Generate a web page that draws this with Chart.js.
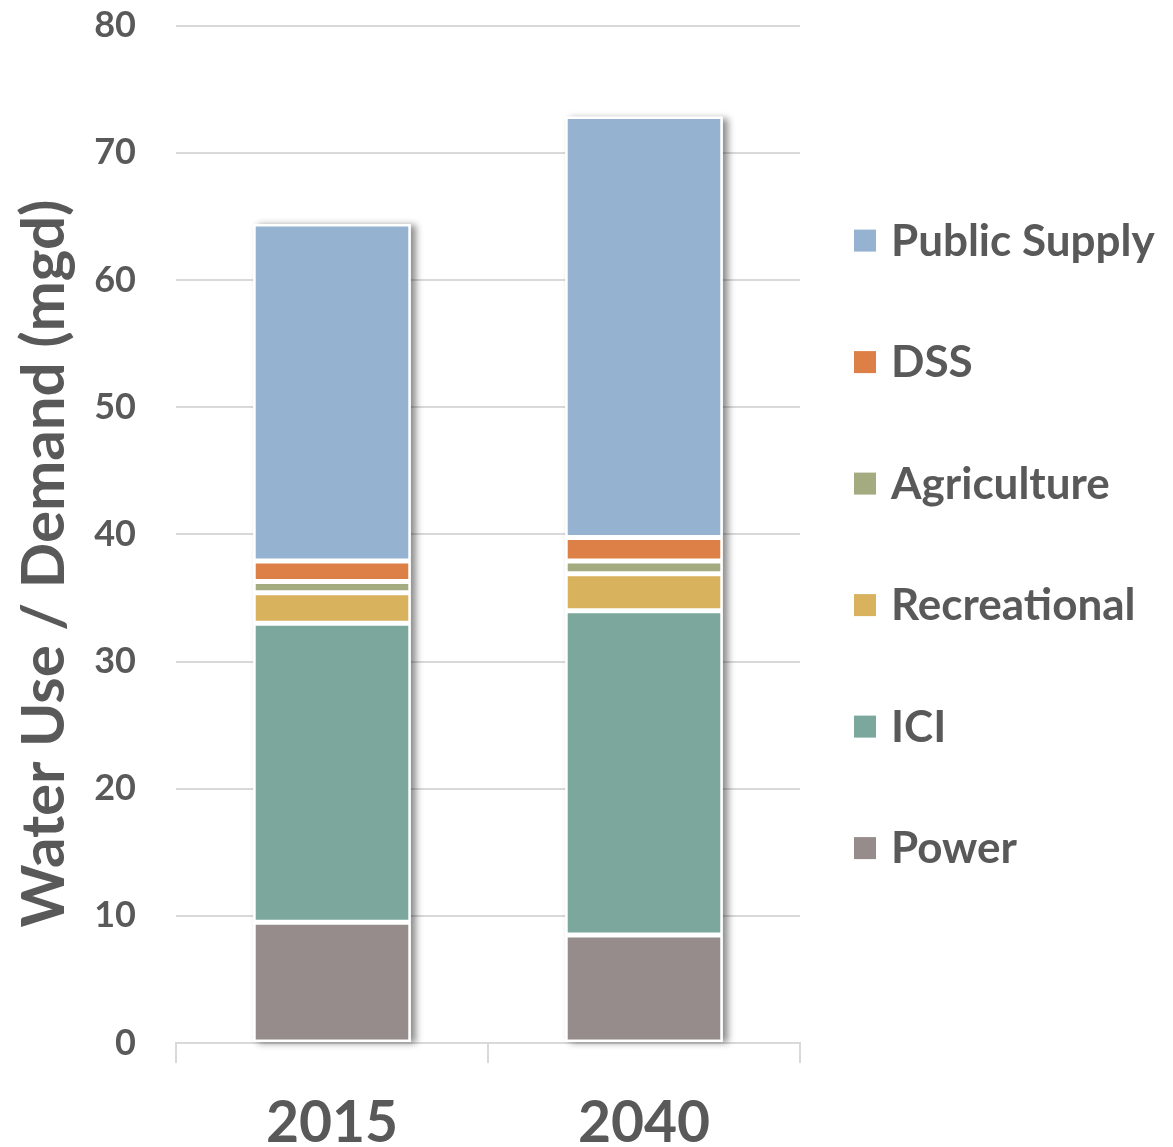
<!DOCTYPE html>
<html>
<head>
<meta charset="utf-8">
<script src="https://cdn.jsdelivr.net/npm/chart.js@4"></script>
<style>
  html, body { margin: 0; padding: 0; background: #fff; }
  #wrap { width: 1173px; height: 1147px; position: relative; }
</style>
</head>
<body>
<div id="wrap"><canvas id="waterChart"></canvas></div>
<script>
// categories + series (mgd), bottom to top of each stack
const years = ["2015", "2040"];
const power = [9.5, 8.5];
const ici = [23.5, 25.5];
const recreational = [2.4, 2.9];
const agriculture = [0.9, 1.0];
const dss = [1.6, 1.85];
const publicSupply = [26.5, 33.1];
const yTicks = [0, 10, 20, 30, 40, 50, 60, 70, 80];

const grey = "#595959";
const font = "Lato, 'Open Sans', sans-serif";

// soft drop shadow behind each stacked column
const stackShadow = {
    id: "stackShadow",
    beforeDatasetsDraw(chart) {
        const c = chart.ctx;
        const metas = chart.getSortedVisibleDatasetMetas();
        const bottom = metas[0], top = metas[metas.length - 1];
        c.save();
        c.shadowColor = "rgba(0,0,0,0.45)";
        c.shadowBlur = 7;
        c.shadowOffsetX = 5;
        c.shadowOffsetY = 1;
        c.fillStyle = "#fff";
        top.data.forEach((bar, i) => {
            const b = bottom.data[i];
            const w = bar.width;
            c.fillRect(bar.x - w / 2, bar.y, w, b.base - bar.y);
        });
        c.restore();
    }
};

// legend drawn on the right, top series first, widely spaced
const sideLegend = {
    id: "sideLegend",
    afterDraw(chart) {
        const c = chart.ctx;
        const area = chart.chartArea;
        const items = chart.data.datasets.slice().reverse();
        const step = 121.5;
        const mid = (area.top + area.bottom) / 2 + 10;
        const y0 = mid - step * (items.length - 1) / 2;
        const x = area.right + 54;
        c.save();
        c.font = "bold 44px " + font;
        c.textBaseline = "middle";
        items.forEach((d, i) => {
            const y = y0 + i * step;
            c.fillStyle = d.backgroundColor;
            c.fillRect(x, y - 11, 22, 22);
            c.fillStyle = grey;
            c.fillText(d.label, x + 37, y + 1);
        });
        c.restore();
    }
};

function ds(label, data, color) {
    return {
        label: label,
        data: data,
        backgroundColor: color,
        borderColor: "#ffffff",
        borderWidth: 2.5,
        borderSkipped: false,
        categoryPercentage: 1,
        barPercentage: 0.505
    };
}

new Chart(document.getElementById("waterChart"), {
    type: "bar",
    data: {
        labels: years,
        datasets: [
            ds("Power", power, "#968c8c"),
            ds("ICI", ici, "#7ba79d"),
            ds("Recreational", recreational, "#d8b25c"),
            ds("Agriculture", agriculture, "#a5ab81"),
            ds("DSS", dss, "#dd8047"),
            ds("Public Supply", publicSupply, "#95b3d0")
        ]
    },
    options: {
        responsive: true,
        maintainAspectRatio: false,
        animation: false,
        layout: { padding: { top: 25.7, right: 373, bottom: -37, left: 12 } },
        plugins: {
            tooltip: { enabled: false },
            legend: { display: false }
        },
        scales: {
            x: {
                stacked: true,
                offset: true,
                border: { display: true, color: "#d9d9d9", width: 2 },
                grid: { display: true, offset: true, drawOnChartArea: false, drawTicks: true, tickLength: 20, color: "#d9d9d9", lineWidth: 2 },
                ticks: { color: grey, font: { family: font, size: 57, weight: "bold", lineHeight: 1 }, padding: 32 }
            },
            y: {
                stacked: true,
                min: 0,
                max: 80,
                afterBuildTicks: (axis) => { axis.ticks = yTicks.map(v => ({ value: v })); },
                afterFit: (axis) => { axis.width = 164; },
                border: { display: false },
                grid: { color: "#d9d9d9", lineWidth: 2, drawTicks: true, tickLength: 40, tickColor: "rgba(0,0,0,0)" },
                ticks: { color: grey, font: { family: font, size: 36, weight: "bold" }, padding: 0 },
                title: {
                    display: true,
                    text: "Water Use / Demand (mgd)    ",
                    color: grey,
                    font: { family: font, size: 60, weight: "bold", lineHeight: 1.1 },
                    padding: { top: 0, bottom: 0 }
                }
            }
        }
    },
    plugins: [stackShadow, sideLegend]
});
</script>
</body>
</html>
